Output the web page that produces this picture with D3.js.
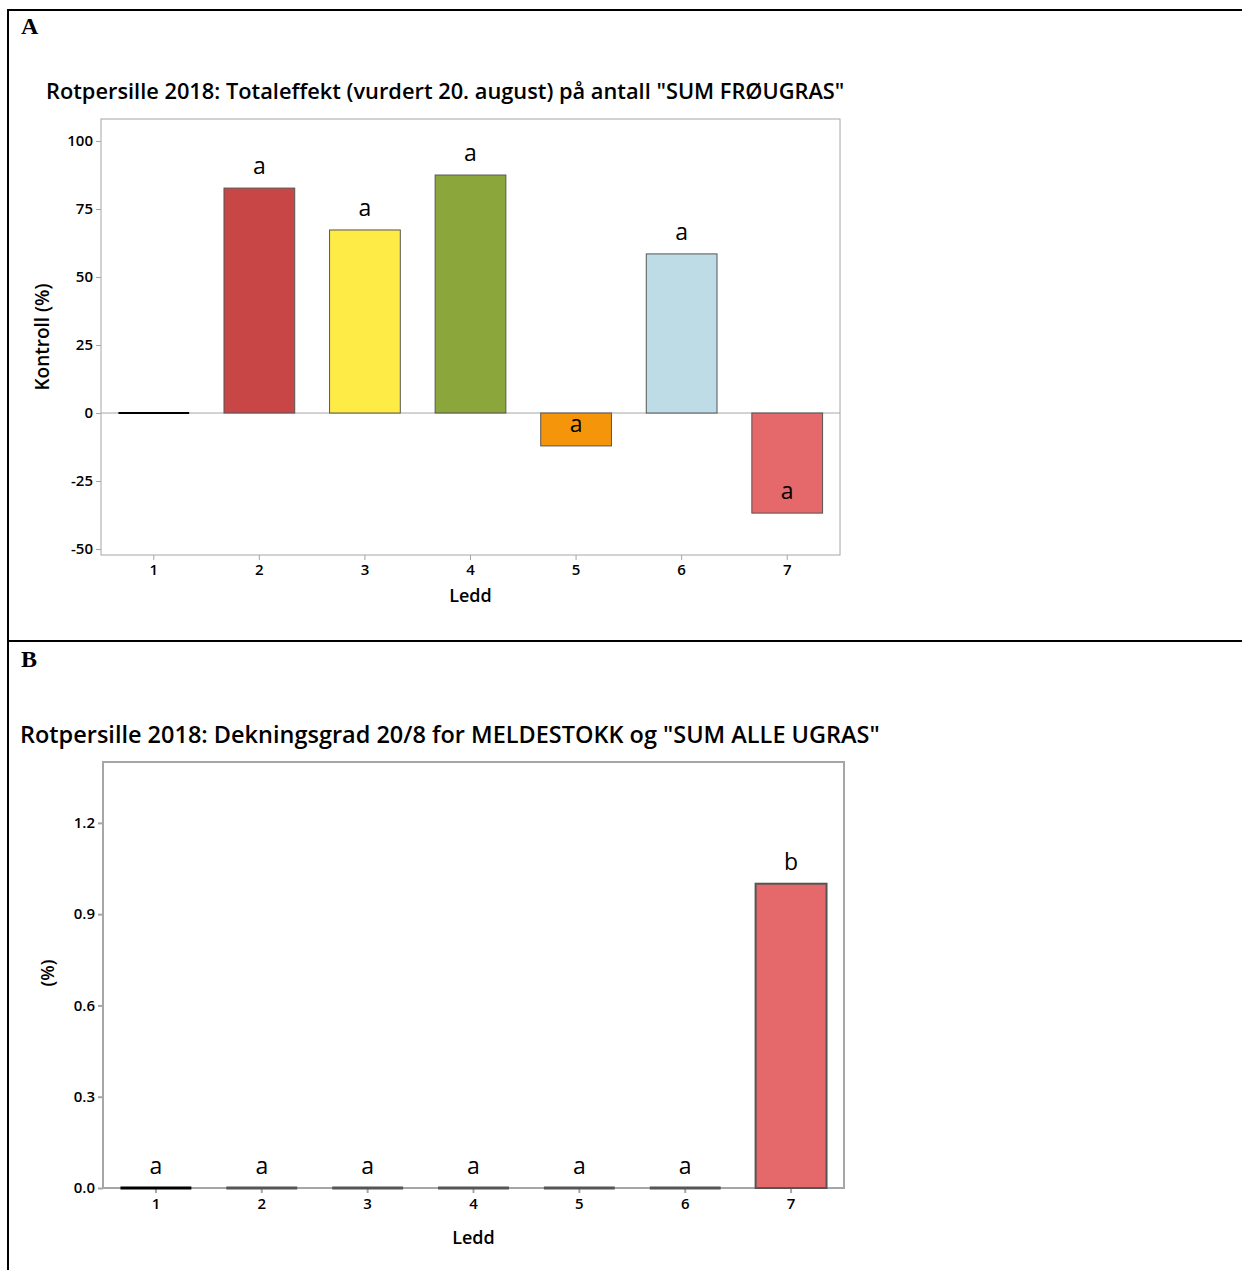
<!DOCTYPE html>
<html>
<head>
<meta charset="utf-8">
<script src="https://cdn.jsdelivr.net/npm/d3@7/dist/d3.min.js"></script>
<style>
  html, body { margin: 0; padding: 0; background: #fff; }
  svg { display: block; }
  text { font-family: "Open Sans", "Noto Sans", sans-serif; fill: #000; }
</style>
</head>
<body>
<script>
// ---- data ----
const ledd = ["1", "2", "3", "4", "5", "6", "7"];
const kontrollA = [0, 82.7, 67.3, 87.5, -12.1, 58.5, -36.8];
const lettersA = ["", "a", "a", "a", "a", "a", "a"];
const yTicksA = [-50, -25, 0, 25, 50, 75, 100];
const dekningB = [0, 0, 0, 0, 0, 0, 1.0];
const lettersB = ["a", "a", "a", "a", "a", "a", "b"];
const yTicksB = [0.0, 0.3, 0.6, 0.9, 1.2];
const barColors = ["#000000", "#C84646", "#FFEB46", "#8BA63A", "#F5960A", "#BEDCE6", "#E5686A"];
const titleA = 'Rotpersille 2018: Totaleffekt (vurdert 20. august) på antall "SUM FRØUGRAS"';
const titleB = 'Rotpersille 2018: Dekningsgrad 20/8 for MELDESTOKK og "SUM ALLE UGRAS"';

const W = 1242, H = 1270;
const svg = d3.select("body").append("svg").attr("width", W).attr("height", H);
const loc = d3.formatLocale({ decimal: ".", thousands: "", grouping: [3], currency: ["", ""], minus: "-" });

// table borders
const border = svg.append("g").attr("stroke", "#000").attr("stroke-width", 2);
border.append("line").attr("x1", 7).attr("x2", W).attr("y1", 10).attr("y2", 10);
border.append("line").attr("x1", 8).attr("x2", 8).attr("y1", 9).attr("y2", H);
border.append("line").attr("x1", 7).attr("x2", W).attr("y1", 641).attr("y2", 641);

svg.append("text").attr("x", 21).attr("y", 34)
  .style("font-family", '"Liberation Serif", "DejaVu Serif", serif')
  .style("font-size", "24px").style("font-weight", "bold").text("A");
svg.append("text").attr("x", 21).attr("y", 667)
  .style("font-family", '"Liberation Serif", "DejaVu Serif", serif')
  .style("font-size", "24px").style("font-weight", "bold").text("B");

function fitText(sel, width) {
  const w = sel.node().getComputedTextLength();
  const fs = parseFloat(sel.style("font-size"));
  sel.style("font-size", (fs * width / w) + "px");
}

function drawChart(o) {
  const g = svg.append("g");
  const x = d3.scaleBand().domain(ledd).range([o.left, o.right])
    .paddingInner(0.33).paddingOuter(0.165);
  const y = d3.scaleLinear().domain(o.domain).range([o.bottom, o.top]);

  // title
  const t = g.append("text").attr("x", o.titleX).attr("y", o.titleY)
    .style("font-size", "20px").style("font-weight", 600).text(o.title);
  fitText(t, o.titleW);

  // frame
  g.append("rect").attr("x", o.left).attr("y", o.top)
    .attr("width", o.right - o.left).attr("height", o.bottom - o.top)
    .attr("fill", "none").attr("stroke", "#a6a6a6").attr("stroke-width", o.frameW);

  // zero line
  g.append("line").attr("x1", o.left).attr("x2", o.right)
    .attr("y1", y(0)).attr("y2", y(0))
    .attr("stroke", "#a6a6a6").attr("stroke-width", o.frameW);

  // y axis
  const ya = g.append("g").attr("transform", `translate(${o.left},0)`)
    .call(d3.axisLeft(y).tickValues(o.yTicks).tickSize(5).tickPadding(3).tickFormat(o.fmt));
  ya.select(".domain").remove();
  ya.selectAll(".tick line").attr("stroke", "#a6a6a6").attr("stroke-width", o.frameW);
  ya.selectAll(".tick text").style("font-size", "15px").style("font-weight", 600)
    .style("font-family", '"Open Sans", sans-serif').attr("fill", "#000");

  // x axis
  const xa = g.append("g").attr("transform", `translate(0,${o.bottom})`)
    .call(d3.axisBottom(x).tickSize(5).tickPadding(o.xPad));
  xa.select(".domain").remove();
  xa.selectAll(".tick line").attr("stroke", "#a6a6a6").attr("stroke-width", o.frameW);
  xa.selectAll(".tick text").style("font-size", "15px").style("font-weight", 600)
    .style("font-family", '"Open Sans", sans-serif').attr("fill", "#000");

  // bars
  o.values.forEach((v, i) => {
    const xb = x(ledd[i]);
    if (v === 0) {
      g.append("line").attr("x1", xb).attr("x2", xb + x.bandwidth())
        .attr("y1", y(0)).attr("y2", y(0))
        .attr("stroke", i === 0 ? "#000" : "#555").attr("stroke-width", o.zeroW);
    } else {
      g.append("rect").attr("x", xb).attr("width", x.bandwidth())
        .attr("y", Math.min(y(v), y(0))).attr("height", Math.abs(y(v) - y(0)))
        .attr("fill", barColors[i]).attr("stroke", "#555").attr("stroke-width", o.barStroke);
    }
    if (o.letters[i]) {
      g.append("text").attr("x", xb + x.bandwidth() / 2).attr("y", y(v) - 14)
        .attr("text-anchor", "middle").style("font-size", "23px").text(o.letters[i]);
    }
  });

  // axis labels
  g.append("text").attr("x", (o.left + o.right) / 2).attr("y", o.xLabelY)
    .attr("text-anchor", "middle").style("font-size", "18px").style("font-weight", 600).text("Ledd");
  g.append("text").attr("transform", `translate(${o.yLabelX},${(o.top + o.bottom) / 2 + o.yLabelDy}) rotate(-90)`)
    .attr("text-anchor", "middle").style("font-size", o.yLabelSize).style("font-weight", 600).text(o.yLabel);
}

drawChart({
  title: titleA, titleX: 46, titleY: 99, titleW: 799,
  left: 101, right: 840, top: 119, bottom: 555,
  domain: [-52.2, 108.1], yTicks: yTicksA, fmt: loc.format("d"), xPad: 4,
  values: kontrollA, letters: lettersA,
  frameW: 1, barStroke: 1, zeroW: 2,
  xLabelY: 602, yLabelX: 49, yLabelDy: 0, yLabel: "Kontroll (%)", yLabelSize: "19px"
});

drawChart({
  title: titleB, titleX: 20, titleY: 743, titleW: 860,
  left: 103, right: 844, top: 762, bottom: 1188,
  domain: [0, 1.4], yTicks: yTicksB, fmt: loc.format(".1f"), xPad: 5,
  values: dekningB, letters: lettersB,
  frameW: 2, barStroke: 2, zeroW: 3,
  xLabelY: 1244, yLabelX: 54, yLabelDy: -2, yLabel: "(%)", yLabelSize: "18px"
});
</script>
</body>
</html>
